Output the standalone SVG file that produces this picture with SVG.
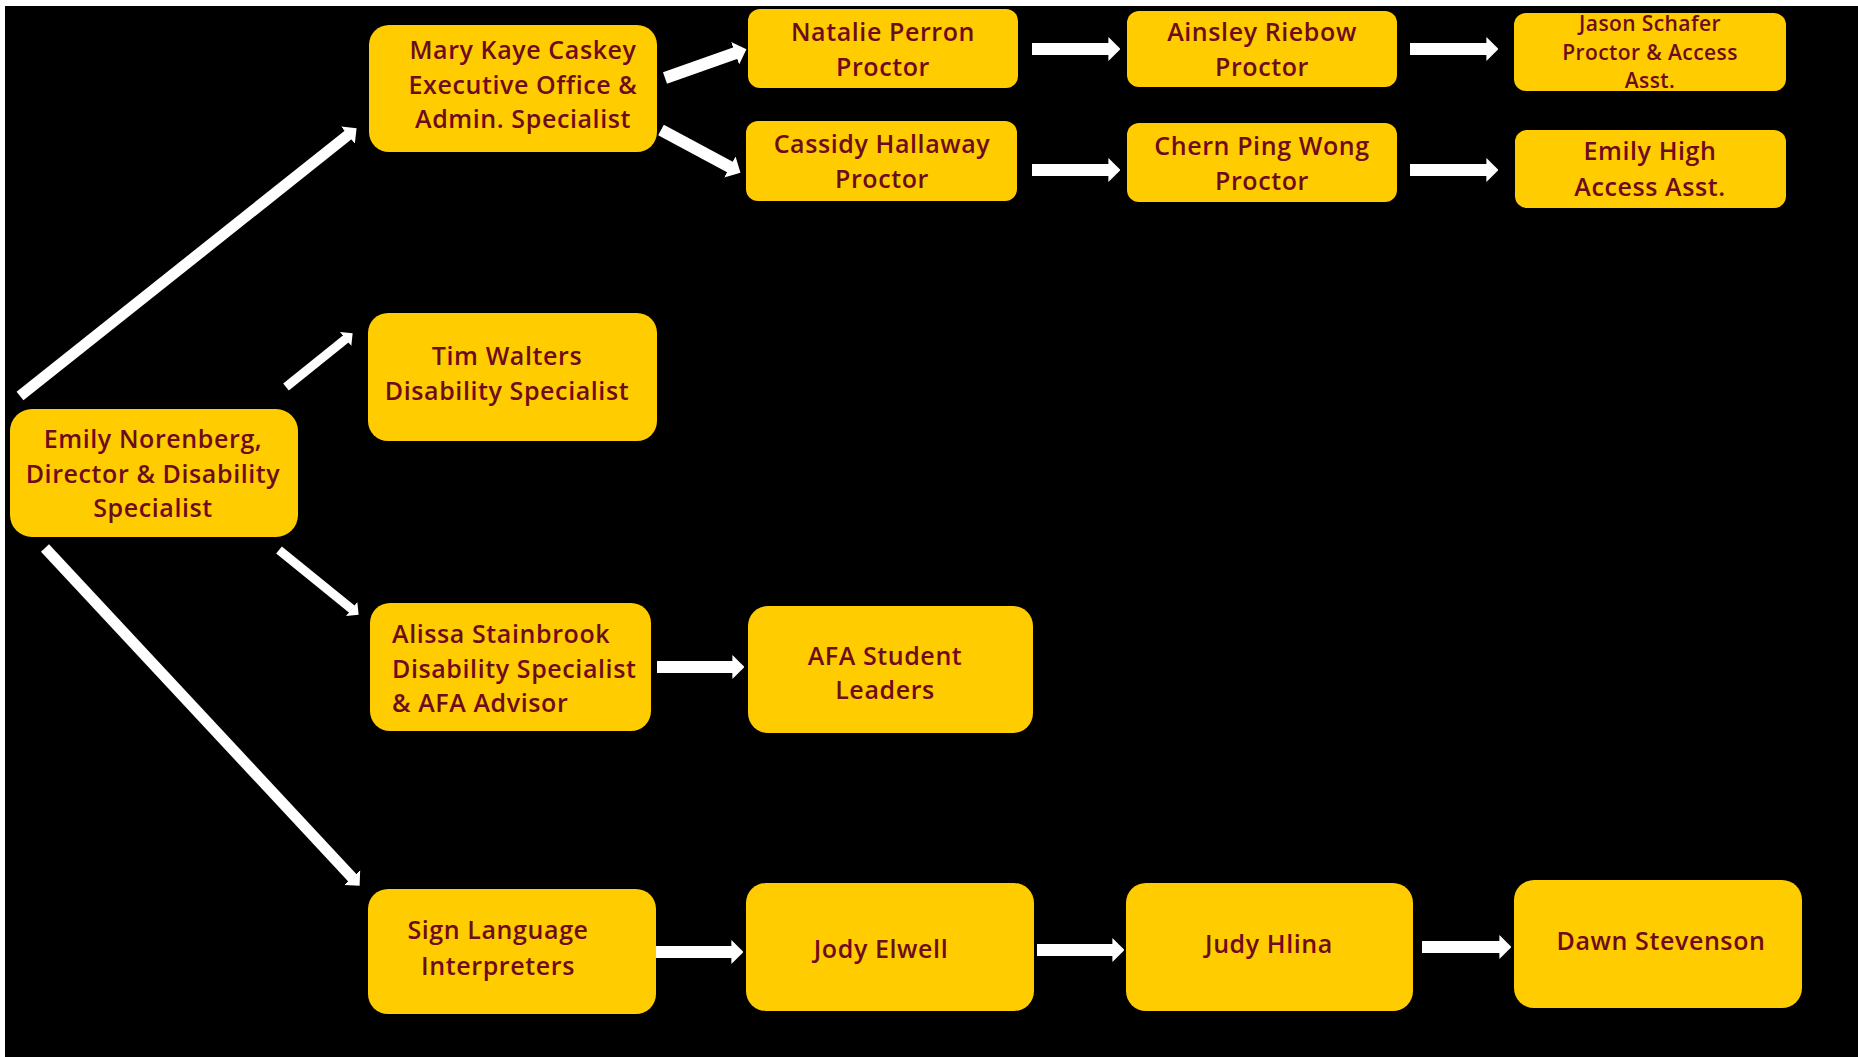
<svg xmlns="http://www.w3.org/2000/svg" width="1858" height="1057" viewBox="0 0 1858 1057">
<style>
.bg{fill:#000}
.box{fill:#FFCC00}
.t{font-family:"Open Sans",Lato,"Liberation Sans",sans-serif;font-weight:600;font-size:25px;letter-spacing:0.6px;fill:#6d0b1f;text-anchor:middle}
.ts{font-size:21px;letter-spacing:0.4px}
.tl{text-anchor:start}
.c{stroke:#fff;fill:none;marker-end:url(#ah)}
</style>
<defs>
<marker id="ah" markerUnits="strokeWidth" viewBox="0 0 10 20" markerWidth="1" markerHeight="2" refX="0.5" refY="10" orient="auto">
<path d="M0,0 L10,10 L0,20 z" fill="#fff"/>
</marker>
</defs>
<rect x="0" y="0" width="1858" height="1057" fill="#fff"/>
<rect class="bg" x="5" y="6" width="1853" height="1051"/>
<g id="connectors">
<line class="c" stroke-width="11" x1="20" y1="396" x2="348.4" y2="134.8"/>
<line class="c" stroke-width="9" x1="286" y1="387" x2="346" y2="338.7"/>
<line class="c" stroke-width="9" x1="279" y1="550" x2="352" y2="609.3"/>
<line class="c" stroke-width="11" x1="45" y1="548" x2="352.5" y2="878"/>
<line class="c" stroke-width="12" x1="665" y1="78" x2="735.7" y2="53"/>
<line class="c" stroke-width="12" x1="661" y1="130" x2="730.4" y2="167.3"/>
<line class="c" stroke-width="12" x1="1032" y1="49" x2="1109" y2="49"/>
<line class="c" stroke-width="12" x1="1410" y1="49" x2="1487" y2="49"/>
<line class="c" stroke-width="12" x1="1032" y1="170" x2="1109" y2="170"/>
<line class="c" stroke-width="12" x1="1410" y1="170" x2="1487" y2="170"/>
<line class="c" stroke-width="12" x1="657" y1="667" x2="733" y2="667"/>
<line class="c" stroke-width="12" x1="656" y1="952" x2="732" y2="952"/>
<line class="c" stroke-width="12" x1="1037" y1="950" x2="1113" y2="950"/>
<line class="c" stroke-width="12" x1="1422" y1="947" x2="1500" y2="947"/>
</g>
<g id="emily-norenberg">
<rect class="box" x="10" y="409" width="288" height="128" rx="22"/>
<text class="t" x="153" y="448">Emily Norenberg,</text>
<text class="t" x="153" y="483">Director &amp; Disability</text>
<text class="t" x="153" y="517">Specialist</text>
</g>
<g id="mary-kaye-caskey">
<rect class="box" x="369" y="25" width="288" height="127" rx="20"/>
<text class="t" x="523" y="59">Mary Kaye Caskey</text>
<text class="t" x="523" y="94">Executive Office &amp;</text>
<text class="t" x="523" y="128">Admin. Specialist</text>
</g>
<g id="tim-walters">
<rect class="box" x="368" y="313" width="289" height="128" rx="20"/>
<text class="t" x="507" y="365">Tim Walters</text>
<text class="t" x="507" y="400">Disability Specialist</text>
</g>
<g id="alissa-stainbrook">
<rect class="box" x="370" y="603" width="281" height="128" rx="20"/>
<text class="t tl" x="392" y="643">Alissa Stainbrook</text>
<text class="t tl" x="392" y="678">Disability Specialist</text>
<text class="t tl" x="392" y="712">&amp; AFA Advisor</text>
</g>
<g id="afa-student-leaders">
<rect class="box" x="748" y="606" width="285" height="127" rx="20"/>
<text class="t" x="885" y="665">AFA Student</text>
<text class="t" x="885" y="699">Leaders</text>
</g>
<g id="sign-language-interpreters">
<rect class="box" x="368" y="889" width="288" height="125" rx="20"/>
<text class="t" x="498" y="939">Sign Language</text>
<text class="t" x="498" y="975">Interpreters</text>
</g>
<g id="jody-elwell">
<rect class="box" x="746" y="883" width="288" height="128" rx="20"/>
<text class="t" x="881" y="958">Jody Elwell</text>
</g>
<g id="judy-hlina">
<rect class="box" x="1126" y="883" width="287" height="128" rx="20"/>
<text class="t" x="1269" y="953">Judy Hlina</text>
</g>
<g id="dawn-stevenson">
<rect class="box" x="1514" y="880" width="288" height="128" rx="20"/>
<text class="t" x="1661" y="950">Dawn Stevenson</text>
</g>
<g id="natalie-perron">
<rect class="box" x="748" y="9" width="270" height="79" rx="12"/>
<text class="t" x="883" y="41">Natalie Perron</text>
<text class="t" x="883" y="76">Proctor</text>
</g>
<g id="ainsley-riebow">
<rect class="box" x="1127" y="11" width="270" height="76" rx="12"/>
<text class="t" x="1262" y="41">Ainsley Riebow</text>
<text class="t" x="1262" y="76">Proctor</text>
</g>
<g id="jason-schafer">
<rect class="box" x="1514" y="13" width="272" height="78" rx="12"/>
<text class="t ts" x="1650" y="31">Jason Schafer</text>
<text class="t ts" x="1650" y="60">Proctor &amp; Access</text>
<text class="t ts" x="1650" y="88">Asst.</text>
</g>
<g id="cassidy-hallaway">
<rect class="box" x="746" y="121" width="271" height="80" rx="12"/>
<text class="t" x="882" y="153">Cassidy Hallaway</text>
<text class="t" x="882" y="188">Proctor</text>
</g>
<g id="chern-ping-wong">
<rect class="box" x="1127" y="123" width="270" height="79" rx="12"/>
<text class="t" x="1262" y="155">Chern Ping Wong</text>
<text class="t" x="1262" y="190">Proctor</text>
</g>
<g id="emily-high">
<rect class="box" x="1515" y="130" width="271" height="78" rx="12"/>
<text class="t" x="1650" y="160">Emily High</text>
<text class="t" x="1650" y="196">Access Asst.</text>
</g>
</svg>
